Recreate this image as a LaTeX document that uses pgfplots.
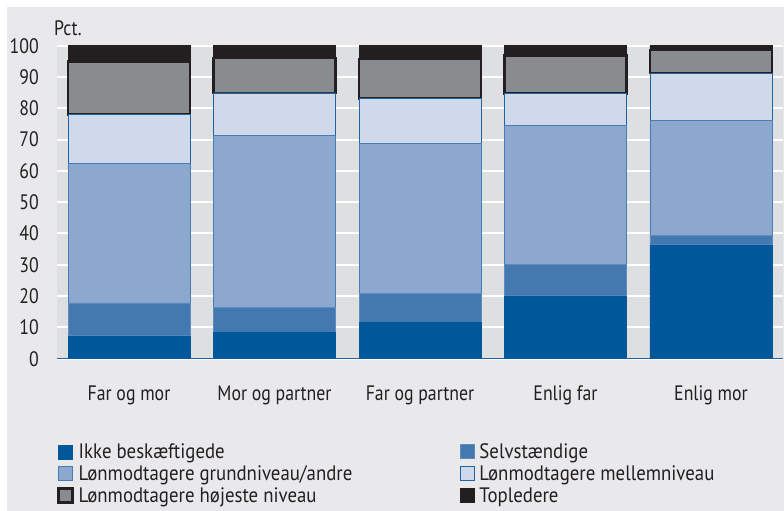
\documentclass[border=0pt]{standalone}
\usepackage{fontspec}
\setmainfont[FakeStretch=0.85]{PT Sans}
\newfontfamily\legfont[FakeStretch=0.9]{PT Sans}
\usepackage{pgfplots}
\pgfplotsset{compat=1.18}

\definecolor{bgout}{RGB}{233,233,235}
\definecolor{plotbg}{RGB}{222,223,225}
\definecolor{txt}{RGB}{35,31,32}
\definecolor{axblue}{RGB}{31,100,168}
\definecolor{cIkke}{RGB}{0,88,155}
\definecolor{cSelv}{RGB}{68,121,176}
\definecolor{cSelvB}{RGB}{95,140,190}
\definecolor{cGrund}{RGB}{141,168,207}
\definecolor{cGrundB}{RGB}{70,125,180}
\definecolor{cMellem}{RGB}{208,217,234}
\definecolor{cHoj}{RGB}{138,139,142}
\definecolor{cTop}{RGB}{35,31,32}

\pgfplotsset{
  legsq/.style={legend image code/.code={\draw[##1] (0.5bp,-7bp) rectangle (14.5bp,7bp);}},
}

% andel i pct. (stablet), læst af figuren
\pgfplotstableread{
x ikke selv grund mellem hoj top
0 7.3  10.5 44.7 15.5 16.9 5.1
1 8.4  8.1  54.9 13.5 11.1 4.0
2 11.5 9.4  47.9 14.4 12.6 4.2
3 20.1 9.9  44.6 10.1 12.2 3.1
4 36.4 2.9  36.7 15.2 7.4  1.4
}\andele

\begin{document}
\begin{tikzpicture}[x=1bp,y=1bp]
\fill[white] (-57,-152.3) rectangle (727,358.7);
\fill[bgout] (-50,-152.3) rectangle (727,351.7);
\begin{axis}[
  at={(0,0)}, anchor=south west,
  scale only axis, width=726bp, height=313bp,
  xmin=-0.495, xmax=4.495, ymin=0, ymax=100,
  ybar stacked, bar width=0.8385,
  xtick={0,...,4},
  xticklabels={Far og mor, Mor og partner, Far og partner, Enlig far, Enlig mor},
  ytick={0,10,...,100},
  axis background/.style={fill=plotbg},
  ymajorgrids, grid style={white, line width=2bp},
  axis line style={draw=none},
  major tick length=0pt,
  tick label style={font=\fontsize{21}{25}\selectfont, text=txt},
  /pgf/number format/assume math mode=true,
  yticklabel style={anchor=east, inner sep=0pt, xshift=-18bp},
  xticklabel style={anchor=base, inner sep=0pt, yshift=-41.8bp},
  clip=false,
  legend columns=2,
  legend cell align=left,
  legend style={at={(0.0,-0.2704)}, anchor=north west, draw=none, fill=none,
    inner sep=0pt, font=\legfont\fontsize{21}{25}\selectfont, text=txt,
    nodes={inner sep=0pt}, column sep=5bp, row sep=5.5bp},
]
\addplot[fill=cIkke, draw=cIkke, legsq] table[x=x, y=ikke] {\andele};
\addlegendentry{\makebox[376bp][l]{Ikke beskæftigede}}
\addplot[fill=cSelv, draw=cSelvB, line width=0.8bp, legsq] table[x=x, y=selv] {\andele};
\addlegendentry{Selvstændige}
\addplot[fill=cGrund, draw=cGrundB, line width=0.8bp, legsq] table[x=x, y=grund] {\andele};
\addlegendentry{\makebox[376bp][l]{Lønmodtagere grundniveau/andre}}
\addplot[fill=cMellem, draw=axblue, line width=0.8bp, legsq] table[x=x, y=mellem] {\andele};
\addlegendentry{Lønmodtagere mellemniveau}
\addplot[fill=cHoj, draw=cTop, line width=2.5bp, legsq] table[x=x, y=hoj] {\andele};
\addlegendentry{\makebox[376bp][l]{Lønmodtagere højeste niveau}}
\addplot[fill=cTop, draw=cTop, legsq] table[x=x, y=top] {\andele};
\addlegendentry{Topledere}
\draw[axblue, line width=1bp] (axis cs:-0.495,0) -- (axis cs:4.495,0);
\end{axis}
\node[anchor=base west, inner sep=0pt, text=txt, font=\fontsize{21}{25}\selectfont] at (-3,323.4) {Pct.};
\end{tikzpicture}
\end{document}
